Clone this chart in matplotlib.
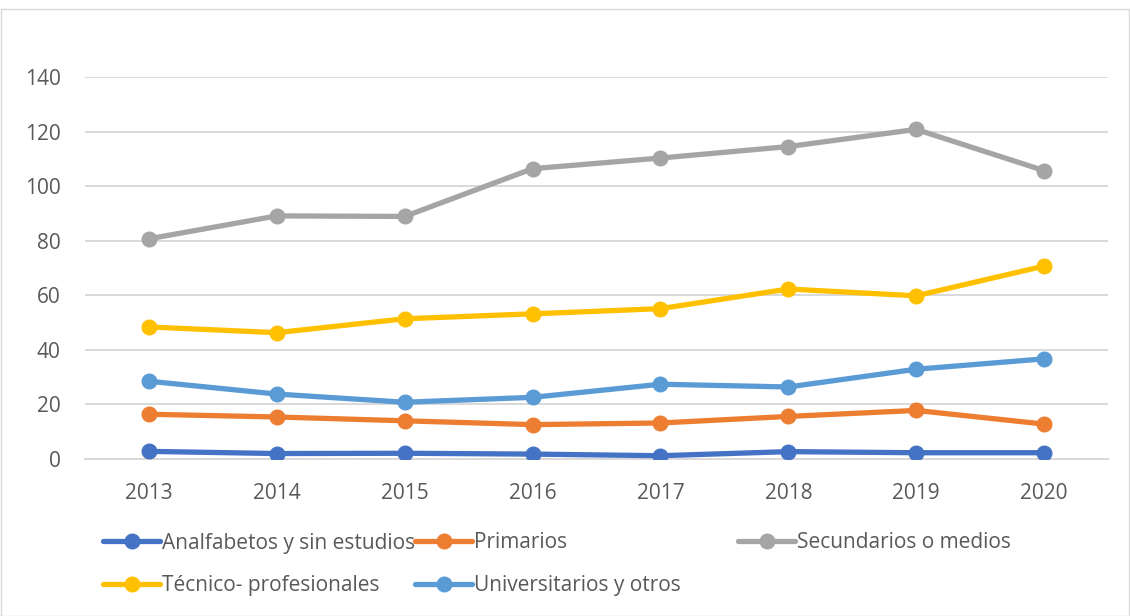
import matplotlib
matplotlib.use("Agg")
import matplotlib.pyplot as plt
from matplotlib.patches import Rectangle

years = ["2013", "2014", "2015", "2016", "2017", "2018", "2019", "2020"]
series_names = ["Analfabetos y sin estudios", "Primarios", "Secundarios o medios",
                "Técnico- profesionales", "Universitarios y otros"]
analfabetos = [2.8, 2.0, 2.1, 1.8, 1.2, 2.7, 2.3, 2.3]
primarios = [16.4, 15.4, 14.0, 12.6, 13.2, 15.6, 17.8, 12.8]
secundarios = [80.7, 89.1, 88.9, 106.4, 110.3, 114.5, 120.8, 105.7]
tecnico = [48.4, 46.3, 51.4, 53.2, 55.1, 62.3, 59.8, 70.7]
universitarios = [28.5, 23.8, 20.8, 22.6, 27.4, 26.4, 32.9, 36.7]
y_ticks = [0, 20, 40, 60, 80, 100, 120, 140]

series = [analfabetos, primarios, secundarios, tecnico, universitarios]
colors = ["#4472C4", "#ED7D31", "#A5A5A5", "#FFC000", "#5B9BD5"]

plt.rcParams['font.family'] = ['Open Sans', 'DejaVu Sans']
text_color = "#595959"
fs = 15

W, H = 1130, 616
fig = plt.figure(figsize=(W / 100, H / 100), dpi=100)
fig.patches.append(Rectangle((0.5 / W, 0.5 / H), (W - 1.5) / W, (H - 9.5) / H,
                             transform=fig.transFigure, fill=False,
                             edgecolor="#d9d9d9", linewidth=1.0))

ax = fig.add_axes([85 / W, 1 - 459 / H, (1108 - 85) / W, (459 - 77) / H])
x = list(range(len(years)))
handles = []
for vals, c, name in zip(series, colors, series_names):
    h, = ax.plot(x, vals, color=c, linewidth=3.8, marker='o', markersize=10.5,
                 solid_capstyle='round', label=name, zorder=3)
    handles.append(h)

ax.set_xlim(-0.5, len(years) - 0.5)
ax.set_ylim(0, 140)
ax.set_yticks(y_ticks)
ax.set_xticks(x)
ax.set_xticklabels(years)
ax.grid(axis='y', color="#d9d9d9", linewidth=1.4)
ax.set_axisbelow(True)
for s in ["top", "right", "left"]:
    ax.spines[s].set_visible(False)
ax.spines["bottom"].set_color("#d9d9d9")
ax.spines["bottom"].set_linewidth(1.4)
ax.tick_params(axis='both', length=0, labelsize=fs, labelcolor=text_color)
ax.tick_params(axis='y', pad=17.5)
ax.tick_params(axis='x', pad=17)
ax.patch.set_alpha(0)

# legend entries positioned like the original (3 columns, 2 rows)
positions = [(103, 543), (415, 543), (738, 543), (103, 586), (415, 586)]
for h, (px, py) in zip(handles, positions):
    fig.legend([h], [h.get_label()], loc='center left',
               bbox_to_anchor=(px / W, 1 - py / H),
               frameon=False, borderpad=0, borderaxespad=0,
               handlelength=2.74, handletextpad=0.1, fontsize=fs,
               labelcolor=text_color)

fig.savefig("out.png", dpi=100)
